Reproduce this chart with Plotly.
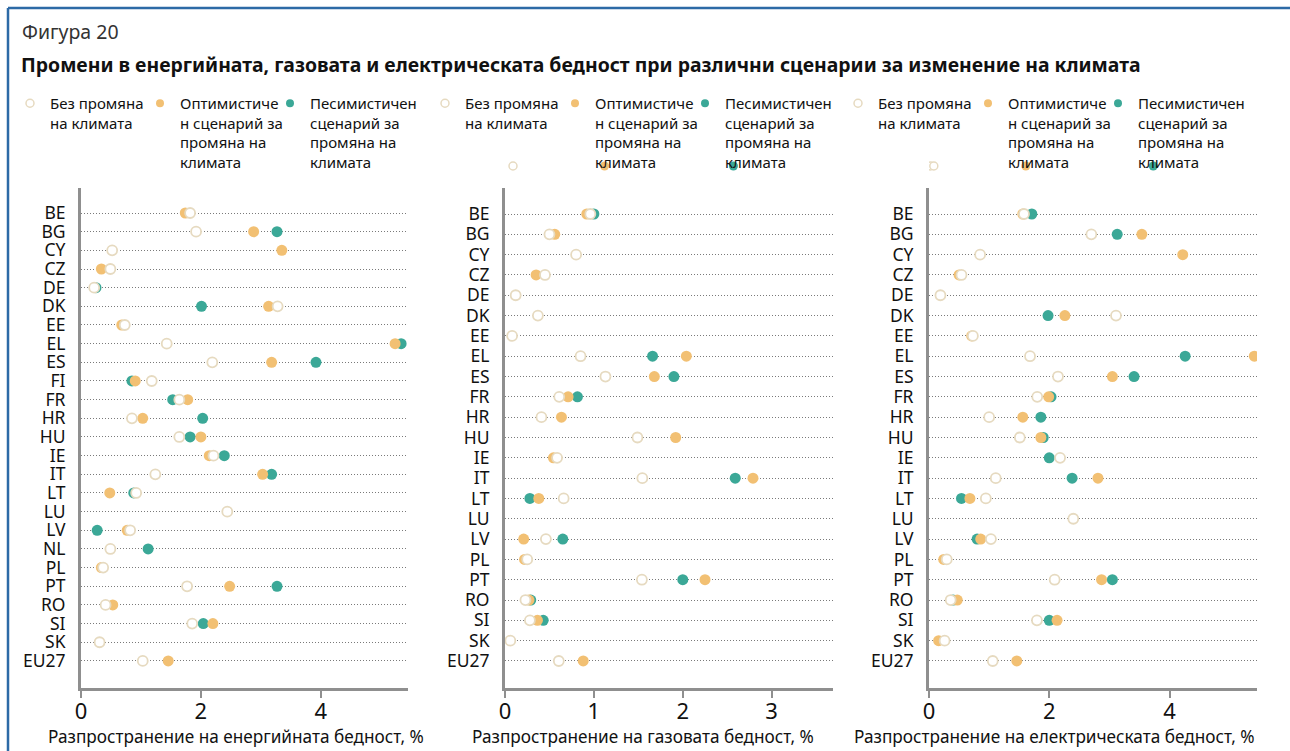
import plotly.graph_objects as go

# ---------------- data ----------------
cats_energy = ["BE", "BG", "CY", "CZ", "DE", "DK", "EE", "EL", "ES", "FI", "FR", "HR", "HU",
               "IE", "IT", "LT", "LU", "LV", "NL", "PL", "PT", "RO", "SI", "SK", "EU27"]
energy_none = [1.82, 1.92, 0.52, 0.49, 0.22, 3.28, 0.73, 1.43, 2.19, 1.18, 1.64, 0.85, 1.64,
               2.21, 1.24, 0.92, 2.44, 0.82, 0.49, 0.37, 1.77, 0.41, 1.855, 0.31, 1.03]
energy_opt = [1.74, 2.88, 3.35, 0.34, None, 3.13, 0.68, 5.24, 3.18, 0.905, 1.78, 1.03, 2.00,
              2.14, 3.03, 0.48, None, 0.77, None, 0.34, 2.48, 0.53, 2.20, None, 1.455]
energy_pes = [None, 3.27, None, None, 0.25, 2.01, None, 5.34, 3.92, 0.85, 1.53, 2.03, 1.82,
              2.39, 3.18, 0.88, None, 0.27, 1.12, None, 3.27, None, 2.04, None, None]

cats_gas = ["BE", "BG", "CY", "CZ", "DE", "DK", "EE", "EL", "ES", "FR", "HR", "HU",
            "IE", "IT", "LT", "LU", "LV", "PL", "PT", "RO", "SI", "SK", "EU27"]
gas_none = [0.96, 0.50, 0.80, 0.45, 0.12, 0.37, 0.08, 0.85, 1.13, 0.61, 0.41, 1.49,
            0.586, 1.545, 0.66, None, 0.46, 0.25, 1.54, 0.23, 0.28, 0.06, 0.605]
gas_opt = [0.92, 0.56, None, 0.35, None, None, None, 2.04, 1.68, 0.71, 0.635, 1.92,
           0.545, 2.79, 0.38, None, 0.21, 0.22, 2.25, 0.27, 0.365, None, 0.88]
gas_pes = [1.00, None, None, None, None, None, None, 1.66, 1.90, 0.815, None, None,
           None, 2.59, 0.28, None, 0.65, None, 2.00, 0.29, 0.43, None, None]
gas_extra_none = [0.09]
gas_extra_opt = [1.12]
gas_extra_pes = [2.57]

cats_elec = ["BE", "BG", "CY", "CZ", "DE", "DK", "EE", "EL", "ES", "FR", "HR", "HU",
             "IE", "IT", "LT", "LU", "LV", "PL", "PT", "RO", "SI", "SK", "EU27"]
elec_none = [1.58, 2.70, 0.85, 0.54, 0.19, 3.11, 0.73, 1.68, 2.145, 1.80, 1.00, 1.51,
             2.18, 1.11, 0.945, 2.40, 1.03, 0.295, 2.09, 0.36, 1.795, 0.26, 1.06]
elec_opt = [1.56, 3.54, 4.22, 0.50, None, 2.26, 0.71, 5.41, 3.05, 1.99, 1.56, 1.86,
            None, 2.81, 0.68, None, 0.86, 0.245, 2.87, 0.47, 2.13, 0.16, 1.46]
elec_pes = [1.71, 3.13, None, None, None, 1.98, None, 4.26, 3.41, 2.03, 1.86, 1.90,
            2.00, 2.38, 0.54, None, 0.80, None, 3.05, 0.40, 2.00, None, None]
elec_extra_none = [0.02, 0.08]
elec_extra_opt = [1.61]
elec_extra_pes = [3.73]

series_names = ["Без промяна<br>на климата",
                "Оптимистиче<br>н сценарий за<br>промяна на<br>климата",
                "Песимистичен<br>сценарий за<br>промяна на<br>климата"]
x_titles = ["Разпространение на енергийната бедност, %",
            "Разпространение на газовата бедност, %",
            "Разпространение на електрическата бедност, %"]
fig_label = "Фигура 20"
fig_title = "Промени в енергийната, газовата и електрическата бедност при различни сценарии за изменение на климата"

# ---------------- styling ----------------
W, H = 1290, 751
FONT = "Noto Sans"
C_NONE_LINE = "#e6dac0"
C_OPT = "#f2c073"
C_PES = "#3ba897"
AXIS_GREY = "#8f8f8f"


def fx(p):
    return p / W


def fy(p):
    return 1 - p / H


panels = [
    dict(cats=cats_energy, none=energy_none, opt=energy_opt, pes=energy_pes,
         extra=None, xdom=(81, 408), xmax=5.455, dtick=2,
         yr=(len(cats_energy) - 1 + 1.45, -1.34), title_cx=236, legend_x=10),
    dict(cats=cats_gas, none=gas_none, opt=gas_opt, pes=gas_pes,
         extra=(gas_extra_none, gas_extra_opt, gas_extra_pes), xdom=(505, 833), xmax=3.69, dtick=1,
         yr=(len(cats_gas) - 1 + 1.33, -1.28), title_cx=643, legend_x=425),
    dict(cats=cats_elec, none=elec_none, opt=elec_opt, pes=elec_pes,
         extra=(elec_extra_none, elec_extra_opt, elec_extra_pes), xdom=(929, 1257), xmax=5.455, dtick=2,
         yr=(len(cats_elec) - 1 + 1.33, -1.28), title_cx=1054, legend_x=838),
]

fig = go.Figure()
legend_ids = ["legend", "legend2", "legend3"]
extra_axis_no = 4

for i, p in enumerate(panels):
    n = i + 1
    xa = "x" if n == 1 else f"x{n}"
    ya = "y" if n == 1 else f"y{n}"
    rows = list(range(len(p["cats"])))
    # data traces: pessimistic, optimistic, no change (open circles on top)
    fig.add_trace(go.Scatter(x=p["pes"], y=rows, mode="markers", xaxis=xa, yaxis=ya,
                             marker=dict(size=11, color=C_PES, line=dict(width=0)),
                             showlegend=False, name="Песимистичен"))
    fig.add_trace(go.Scatter(x=p["opt"], y=rows, mode="markers", xaxis=xa, yaxis=ya,
                             marker=dict(size=11, color=C_OPT, line=dict(width=0)),
                             showlegend=False, name="Оптимистичен"))
    fig.add_trace(go.Scatter(x=p["none"], y=rows, mode="markers", xaxis=xa, yaxis=ya,
                             marker=dict(size=10, color="white", line=dict(width=1.8, color=C_NONE_LINE)),
                             showlegend=False, name="Без промяна"))
    if p["extra"]:
        # unlabeled row drawn just above the panel (below the legend text)
        e_none, e_opt, e_pes = p["extra"]
        ye = f"y{extra_axis_no}"
        fig.layout[f"yaxis{extra_axis_no}"] = dict(domain=[fy(178), fy(154)], anchor=xa, range=[-1, 1],
                                                   visible=False, showgrid=False, zeroline=False,
                                                   fixedrange=True)
        extra_axis_no += 1
        fig.add_trace(go.Scatter(x=e_pes, y=[0] * len(e_pes), mode="markers", xaxis=xa, yaxis=ye,
                                 marker=dict(size=9, color=C_PES), showlegend=False))
        fig.add_trace(go.Scatter(x=e_opt, y=[0] * len(e_opt), mode="markers", xaxis=xa, yaxis=ye,
                                 marker=dict(size=9, color=C_OPT), showlegend=False))
        fig.add_trace(go.Scatter(x=e_none, y=[0] * len(e_none), mode="markers", xaxis=xa, yaxis=ye,
                                 marker=dict(size=8, color="white", line=dict(width=1.5, color=C_NONE_LINE)),
                                 showlegend=False))
    # legend entries
    for name, mk in zip(series_names, [
            dict(size=8, color="white", line=dict(width=1.5, color=C_NONE_LINE)),
            dict(size=8, color=C_OPT),
            dict(size=8, color=C_PES)]):
        fig.add_trace(go.Scatter(x=[None], y=[None], mode="markers", xaxis=xa, yaxis=ya,
                                 marker=mk, name=name, legend=legend_ids[i], showlegend=True))
    # invisible spacer entry so the last legend label is not clipped
    fig.add_trace(go.Scatter(x=[None], y=[None], mode="markers", xaxis=xa, yaxis=ya,
                             marker=dict(size=1, color="rgba(0,0,0,0)"), name=" ",
                             legend=legend_ids[i], showlegend=True, hoverinfo="skip"))

    xkey = "xaxis" if n == 1 else f"xaxis{n}"
    ykey = "yaxis" if n == 1 else f"yaxis{n}"
    fig.layout[xkey] = dict(domain=[fx(p["xdom"][0]), fx(p["xdom"][1])], anchor=ya,
                            range=[0, p["xmax"]], dtick=p["dtick"], tick0=0,
                            showgrid=False, zeroline=False, showline=True,
                            linecolor=AXIS_GREY, linewidth=3, ticks="outside", ticklen=7,
                            tickwidth=2, tickcolor=AXIS_GREY, automargin=False,
                            ticklabelstandoff=-5,
                            tickfont=dict(family=FONT, size=22, color="#111"))
    fig.layout[ykey] = dict(domain=[fy(688), fy(188)], anchor=xa,
                            range=list(p["yr"]), tickvals=rows, ticktext=p["cats"],
                            showgrid=True, gridcolor="#7a7a7a", griddash="1px,2px", gridwidth=1,
                            zeroline=False, showline=True, linecolor=AXIS_GREY, linewidth=3,
                            ticks="", ticklabelstandoff=9, automargin=False,
                            tickfont=dict(family=FONT, size=17.5, color="#111"))
    fig.add_annotation(text=x_titles[i], xref="paper", yref="paper", x=fx(p["title_cx"]), y=fy(736),
                       xanchor="center", yanchor="middle", showarrow=False,
                       font=dict(family=FONT, size=17.2, color="#111"))
    fig.layout[legend_ids[i]] = dict(orientation="h", x=fx(p["legend_x"]), y=fy(87),
                                     xanchor="left", yanchor="top", entrywidth=85,
                                     entrywidthmode="pixels", valign="top",
                                     bgcolor="rgba(0,0,0,0)", traceorder="normal",
                                     font=dict(family=FONT, size=15, color="#111"),
                                     itemclick=False, itemdoubleclick=False)

fig.add_annotation(text=fig_label, xref="paper", yref="paper", x=fx(20), y=fy(32),
                   xanchor="left", yanchor="middle", showarrow=False,
                   font=dict(family=FONT, size=19.5, color="#333"))
fig.add_annotation(text=f"<b>{fig_title}</b>", xref="paper", yref="paper", x=fx(19), y=fy(64),
                   xanchor="left", yanchor="middle", showarrow=False,
                   font=dict(family=FONT, size=19.4, color="#111"))

fig.add_shape(type="line", xref="paper", yref="paper", x0=fx(8), x1=1, y0=fy(8), y1=fy(8),
              line=dict(color="#2d6aa6", width=2.5))
fig.add_shape(type="line", xref="paper", yref="paper", x0=fx(8), x1=fx(8), y0=fy(8), y1=0,
              line=dict(color="#2d6aa6", width=2.5))

fig.update_layout(width=W, height=H, margin=dict(l=0, r=0, t=0, b=0, autoexpand=False),
                  paper_bgcolor="white", plot_bgcolor="rgba(0,0,0,0)",
                  font=dict(family=FONT, color="#111"), hovermode="closest")

fig.write_html("out.html", config={"displayModeBar": False},
               post_script="document.body.style.margin='0';document.body.style.overflow='hidden';")
